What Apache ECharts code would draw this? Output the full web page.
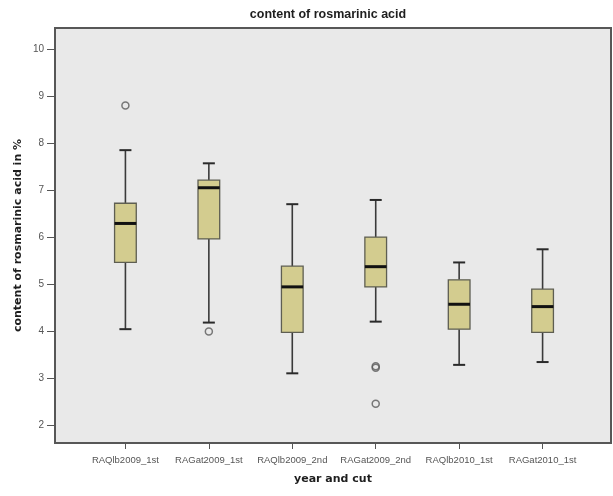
<!DOCTYPE html>
<html>
<head>
<meta charset="utf-8">
<script src="https://cdn.jsdelivr.net/npm/echarts@6/dist/echarts.min.js"></script>
<style>
  html, body { margin: 0; padding: 0; background: #ffffff; }
  #chart { width: 613px; height: 496px; }
</style>
</head>
<body>
<div id="chart"></div>
<script>
// Groups along the x axis
const categories = ['RAQlb2009_1st', 'RAGat2009_1st', 'RAQlb2009_2nd', 'RAGat2009_2nd', 'RAQlb2010_1st', 'RAGat2010_1st'];

// Five-number summaries per group (content of rosmarinic acid, %)
const whiskerLow  = [4.04, 4.18, 3.10, 4.20, 3.28, 3.34];
const quartile1   = [5.46, 5.96, 3.97, 4.94, 4.04, 3.97];
const medians     = [6.29, 7.05, 4.94, 5.37, 4.57, 4.52];
const quartile3   = [6.72, 7.21, 5.38, 6.00, 5.09, 4.89];
const whiskerHigh = [7.85, 7.57, 6.70, 6.79, 5.46, 5.74];

// Outliers as [group index, value]
const outliers = [[0, 8.80], [1, 3.99], [3, 3.22], [3, 3.25], [3, 2.45]];

// Y axis tick values
const yTicks = [2, 3, 4, 5, 6, 7, 8, 9, 10];
const xTicks = categories.map((_, i) => i);

const boxData = categories.map((_, i) => [i, whiskerLow[i], quartile1[i], medians[i], quartile3[i], whiskerHigh[i]]);

const BOX_HALF = 0.13;
const CAP_HALF = 0.072;

function renderBox(params, api) {
  const i = api.value(0);
  const lo = api.value(1), q1 = api.value(2), med = api.value(3), q3 = api.value(4), hi = api.value(5);
  const pLo = api.coord([i, lo]);
  const pHi = api.coord([i, hi]);
  const pQ1 = api.coord([i, q1]);
  const pQ3 = api.coord([i, q3]);
  const boxL = api.coord([i - BOX_HALF, q3]);
  const boxR = api.coord([i + BOX_HALF, q1]);
  const capL = api.coord([i - CAP_HALF, lo])[0];
  const capR = api.coord([i + CAP_HALF, lo])[0];
  const medY = api.coord([i, med])[1];
  const whisk = { stroke: '#3a3a3a', lineWidth: 1.6 };
  return {
    type: 'group',
    children: [
      { type: 'line', shape: { x1: pHi[0], y1: pHi[1], x2: pQ3[0], y2: pQ3[1] }, style: whisk },
      { type: 'line', shape: { x1: pQ1[0], y1: pQ1[1], x2: pLo[0], y2: pLo[1] }, style: whisk },
      { type: 'line', shape: { x1: capL, y1: pHi[1], x2: capR, y2: pHi[1] }, style: { stroke: '#2a2a2a', lineWidth: 2 } },
      { type: 'line', shape: { x1: capL, y1: pLo[1], x2: capR, y2: pLo[1] }, style: { stroke: '#2a2a2a', lineWidth: 2 } },
      { type: 'rect', shape: { x: boxL[0], y: boxL[1], width: boxR[0] - boxL[0], height: boxR[1] - boxL[1] },
        style: { fill: '#d3cc8f', stroke: '#5e5e52', lineWidth: 1.3 } },
      { type: 'line', shape: { x1: boxL[0], y1: medY, x2: boxR[0], y2: medY }, style: { stroke: '#111111', lineWidth: 3 } }
    ]
  };
}

const chart = echarts.init(document.getElementById('chart'), null, { renderer: 'canvas' });
chart.setOption({
  animation: false,
  backgroundColor: '#ffffff',
  title: {
    text: 'content of rosmarinic acid',
    left: 323, top: 3,
    textAlign: 'center',
    textStyle: { fontFamily: 'Liberation Sans', fontSize: 12.5, fontWeight: 'bold', color: '#1e1e1e' }
  },
  grid: {
    left: 55, right: 2, top: 28, bottom: 53,
    show: true, backgroundColor: '#e9e9e9', borderColor: '#575757', borderWidth: 2
  },
  xAxis: {
    type: 'value',
    min: -0.844, max: 5.82,
    name: 'year and cut',
    nameLocation: 'middle',
    nameGap: 31,
    nameMoveOverlap: false,
    nameTextStyle: { fontFamily: 'DejaVu Sans', fontSize: 11, fontWeight: 'bold', color: '#1e1e1e' },
    axisLine: { show: false, onZero: false },
    splitLine: { show: false },
    axisTick: { show: true, customValues: xTicks, length: 6, lineStyle: { color: '#555', width: 1 } },
    axisLabel: {
      customValues: xTicks, margin: 12,
      fontFamily: 'Liberation Sans', fontSize: 9.5, color: '#555',
      formatter: v => categories[Math.round(v)]
    }
  },
  yAxis: {
    type: 'value',
    min: 1.617, max: 10.45,
    name: 'content of rosmarinic acid in %',
    nameLocation: 'middle',
    nameRotate: 90,
    nameGap: 31,
    nameMoveOverlap: false,
    nameTextStyle: { fontFamily: 'DejaVu Sans', fontSize: 11, fontWeight: 'bold', color: '#1e1e1e' },
    axisLine: { show: false, onZero: false },
    splitLine: { show: false },
    axisTick: { show: true, customValues: yTicks, length: 8, lineStyle: { color: '#555', width: 1 } },
    axisLabel: {
      customValues: yTicks, margin: 11,
      fontFamily: 'Liberation Sans', fontSize: 10, color: '#555',
      formatter: v => String(Math.round(v))
    }
  },
  series: [
    {
      type: 'custom',
      renderItem: renderBox,
      data: boxData,
      encode: { x: 0, y: [1, 2, 3, 4, 5] },
      z: 2
    },
    {
      type: 'scatter',
      data: outliers,
      symbol: 'circle',
      symbolSize: 7,
      itemStyle: { color: 'rgba(0,0,0,0)', borderColor: '#5a5a5a', borderWidth: 1.5 },
      z: 3
    }
  ]
});
</script>
</body>
</html>
